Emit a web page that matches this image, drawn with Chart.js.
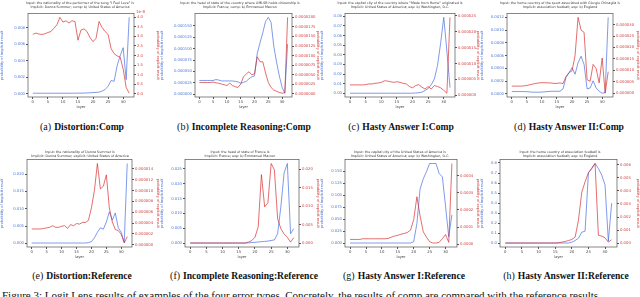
<!DOCTYPE html>
<html>
<head>
<meta charset="utf-8">
<script src="https://cdn.jsdelivr.net/npm/chart.js@4.4.1/dist/chart.umd.min.js"></script>
<style>
  body { margin: 0; background: #fff; width: 640px; height: 297px; overflow: hidden; position: relative; font-family: 'Liberation Serif', serif; }
  canvas { position: absolute; }
  .cap { position: absolute; width: 200px; text-align: center; font-size: 10px; color: #111; white-space: nowrap; }
  .cap b { font-size: 9.6px; margin-left: 3px; }
  .off { position: absolute; font: 4px 'DejaVu Sans'; color: #d44; }
  .fig { position: absolute; left: 2px; top: 289px; font-size: 11px; color: #111; white-space: nowrap; }
</style>
</head>
<body>
<canvas id="pa"></canvas>
<canvas id="pb"></canvas>
<canvas id="pc"></canvas>
<canvas id="pd"></canvas>
<canvas id="pe"></canvas>
<canvas id="pf"></canvas>
<canvas id="pg"></canvas>
<canvas id="ph"></canvas>
<span class="off" style="left:136px;top:9px">1e-8</span>

<div class="cap" style="left:-18px;top:121px">(a)<b>Distortion:Comp</b></div>
<div class="cap" style="left:144px;top:121px">(b)<b>Incomplete Reasoning:Comp</b></div>
<div class="cap" style="left:301px;top:121px">(c)<b>Hasty Answer I:Comp</b></div>
<div class="cap" style="left:469px;top:121px">(d)<b>Hasty Answer II:Comp</b></div>
<div class="cap" style="left:-18px;top:270px">(e)<b>Distortion:Reference</b></div>
<div class="cap" style="left:144px;top:270px">(f)<b>Incomplete Reasoning:Reference</b></div>
<div class="cap" style="left:304px;top:270px">(g)<b>Hasty Answer I:Reference</b></div>
<div class="cap" style="left:466px;top:270px">(h)<b>Hasty Answer II:Reference</b></div>
<div class="fig">Figure 3: Logit Lens results of examples of the four error types. Concretely, the results of comp are compared with the reference results.</div>

<script>
// layers on the x axis
const layers = [0, 1, 2, 3, 4, 5, 6, 7, 8, 9, 10, 11, 12, 13, 14, 15, 16, 17, 18, 19, 20, 21, 22, 23, 24, 25, 26, 27, 28, 29, 30, 31, 32];
const xTicks = [0, 5, 10, 15, 20, 25, 30];

// (a) Distortion:Comp
const aBlue = [0.00005, 0.00005, 0.00005, 0.00005, 0.00005, 0.00005, 0.00005, 0.00005, 0.00005, 0.00005, 0.00005, 0.00005, 0.00005, 0.00005, 0.00005, 0.00006, 0.00006, 0.00007, 0.00008, 0.0001, 0.00013, 0.00015, 0.00018, 0.0003, 0.0005, 0.0009, 0.0016, 0.0015, 0.0034, 0.0046, 0.0056, 0.0017, 0.0093];
const aRed = [3.10e-8, 3.17e-8, 3.12e-8, 3.10e-8, 3.13e-8, 3.20e-8, 3.25e-8, 3.42e-8, 3.60e-8, 3.99e-8, 3.74e-8, 3.81e-8, 3.69e-8, 3.81e-8, 3.77e-8, 2.80e-8, 3.33e-8, 3.39e-8, 3.25e-8, 2.93e-8, 2.72e-8, 2.90e-8, 3.77e-8, 3.46e-8, 3.25e-8, 3.10e-8, 2.36e-8, 2.10e-8, 1.98e-8, 1.92e-8, 1.30e-8, 0.34e-8, 0.04e-8];
const aLeftTicks = [0, 0.002, 0.004, 0.006, 0.008];
const aRightTicks = [0, 0.5e-8, 1.0e-8, 1.5e-8, 2.0e-8, 2.5e-8, 3.0e-8, 3.5e-8, 4.0e-8];

// (b) Incomplete Reasoning:Comp
const bBlue = [0.000030, 0.000030, 0.000030, 0.000030, 0.000030, 0.000030, 0.000032, 0.000031, 0.000029, 0.000029, 0.000029, 0.000029, 0.000029, 0.000028, 0.000027, 0.000024, 0.000026, 0.000028, 0.000034, 0.000038, 0.00004, 0.00009, 0.000113, 0.000135, 0.00016, 0.000169, 0.000158, 0.000105, 0.00007, 0.00004, 0.000015, 0.000002, 0.00011];
const bRed = [0.0000030, 0.0000030, 0.0000030, 0.0000030, 0.0000030, 0.0000031, 0.0000029, 0.0000028, 0.0000026, 0.0000024, 0.0000022, 0.0000028, 0.0000022, 0.0000019, 0.0000017, 0.0000026, 0.0000045, 0.0000052, 0.0000058, 0.0000050, 0.0000053, 0.0000097, 0.0000084, 0.0000084, 0.0000055, 0.0000030, 0.0000017, 0.0000010, 0.0000007, 0.0000004, 0.0000002, 0.0000003, 0.0000200];
const bLeftTicks = [0, 0.000025, 0.00005, 0.000075, 0.0001, 0.000125, 0.00015];
const bRightTicks = [0, 0.0000025, 0.000005, 0.0000075, 0.00001, 0.0000125, 0.000015, 0.0000175, 0.00002];

// (c) Hasty Answer I:Comp
const cBlue = [0.0002, 0.0002, 0.0002, 0.0002, 0.0002, 0.0002, 0.0002, 0.0002, 0.0002, 0.0002, 0.0002, 0.0002, 0.0002, 0.0002, 0.0002, 0.0002, 0.0002, 0.0002, 0.0002, 0.0002, 0.0002, 0.0004, 0.0007, 0.0013, 0.003, 0.005, 0.009, 0.015, 0.029, 0.052, 0.079, 0.044, 0.006];
const cRed = [3.3e-6, 3.3e-6, 3.3e-6, 3.3e-6, 3.3e-6, 3.4e-6, 3.6e-6, 3.6e-6, 3.8e-6, 3.9e-6, 4.1e-6, 4.6e-6, 4.5e-6, 4.3e-6, 4.1e-6, 4.3e-6, 4.1e-6, 3.8e-6, 3.6e-6, 2.8e-6, 2.4e-6, 3.1e-6, 3.4e-6, 2.6e-6, 2.0e-6, 2.8e-6, 2.0e-6, 3.1e-6, 2.8e-6, 2.4e-6, 1.6e-6, 0.7e-6, 2.45e-5];
const cLeftTicks = [0, 0.01, 0.02, 0.03, 0.04, 0.05, 0.06, 0.07, 0.08];
const cRightTicks = [0, 0.000005, 0.00001, 0.000015, 0.00002, 0.000025];

// (d) Hasty Answer II:Comp
const dBlue = [3.6e-5, 3.6e-5, 3.6e-5, 3.6e-5, 3.6e-5, 3.4e-5, 3.0e-5, 2.6e-5, 2.6e-5, 2.6e-5, 2.8e-5, 3.2e-5, 3.6e-5, 4.0e-5, 4.0e-5, 4.0e-5, 4.1e-5, 7.7e-5, 2.56e-4, 3.33e-4, 4.1e-4, 3.08e-4, 4.87e-4, 5.9e-4, 4.6e-4, 7.7e-5, 9.2e-5, 2.05e-4, 9.2e-5, 4.1e-5, 1.0e-5, 2.0e-5, 1.2e-3];
const dRed = [3.1e-6, 3.1e-6, 3.1e-6, 3.1e-6, 3.2e-6, 3.4e-6, 3.7e-6, 4.0e-6, 4.3e-6, 4.5e-6, 4.6e-6, 4.6e-6, 4.5e-6, 4.5e-6, 4.3e-6, 4.3e-6, 4.5e-6, 4.2e-6, 7.3e-6, 9.0e-6, 9.8e-6, 1.64e-5, 3.32e-5, 2.76e-5, 2.66e-5, 5.9e-6, 5.2e-6, 1.26e-5, 1.08e-5, 4.5e-6, 1.54e-5, 0, 9.4e-6];
const dLeftTicks = [0, 0.0002, 0.0004, 0.0006, 0.0008, 0.001, 0.0012];
const dRightTicks = [0, 0.000005, 0.00001, 0.000015, 0.00002, 0.000025, 0.00003];

// (e) Distortion:Reference
const eBlue = [0.0001, 0.0001, 0.0001, 0.0001, 0.0001, 0.0001, 0.0001, 0.0001, 0.0001, 0.0001, 0.0001, 0.0001, 0.0001, 0.0001, 0.0001, 0.0001, 0.0001, 0.0001, 0.0001, 0.0002, 0.0005, 0.0016, 0.0032, 0.0045, 0.0041, 0.0062, 0.0091, 0.0067, 0.0088, 0.0045, 0.0032, 0.0003, 0.0231];
const eRed = [2.9e-6, 2.9e-6, 2.9e-6, 2.9e-6, 3.0e-6, 3.1e-6, 3.2e-6, 3.5e-6, 3.2e-6, 3.2e-6, 3.4e-6, 3.5e-6, 3.0e-6, 3.7e-6, 3.5e-6, 3.9e-6, 3.8e-6, 4.1e-6, 4.1e-6, 4.5e-6, 6.8e-6, 1.0e-5, 1.5e-5, 1.03e-5, 1.08e-5, 1.29e-5, 6.8e-6, 4.2e-6, 2.8e-6, 2.6e-6, 1.9e-6, 0.3e-6, 1.5e-6];
const eLeftTicks = [0, 0.005, 0.01, 0.015, 0.02];
const eRightTicks = [0, 0.000002, 0.000004, 0.000006, 0.000008, 0.00001, 0.000012, 0.000014];

// (f) Incomplete Reasoning:Reference
const fBlue = [0.00005, 0.00005, 0.00005, 0.00005, 0.00005, 0.00005, 0.00005, 0.00005, 0.00005, 0.00005, 0.00005, 0.00005, 0.00005, 0.00005, 0.00005, 0.00005, 0.00005, 0.00005, 0.0001, 0.0002, 0.0003, 0.0004, 0.0005, 0.0006, 0.0007, 0.0009, 0.0011, 0.0032, 0.0123, 0.0236, 0.0268, 0.0032, 0.0049];
const fRed = [0.00005, 0.00005, 0.00005, 0.00005, 0.00005, 0.00005, 0.00005, 0.00005, 0.00005, 0.00005, 0.00005, 0.00005, 0.00005, 0.00005, 0.00005, 0.00005, 0.00005, 0.00005, 0.0003, 0.0007, 0.0016, 0.0044, 0.0185, 0.0098, 0.0109, 0.0215, 0.0198, 0.0066, 0.0039, 0.0025, 0.0016, 0.0003, 0.0015];
const fLeftTicks = [0, 0.005, 0.01, 0.015, 0.02, 0.025];
const fRightTicks = [0, 0.005, 0.01, 0.015, 0.02];

// (g) Hasty Answer I:Reference
const gBlue = [0.0002, 0.0002, 0.0002, 0.0002, 0.0002, 0.0002, 0.0002, 0.0002, 0.0002, 0.0002, 0.0002, 0.0002, 0.0002, 0.0002, 0.0002, 0.0002, 0.0002, 0.0002, 0.0002, 0.0002, 0.003, 0.041, 0.113, 0.134, 0.149, 0.166, 0.166, 0.166, 0.145, 0.138, 0.077, 0.013, 0.059];
const gRed = [2.7e-5, 2.7e-5, 2.7e-5, 2.7e-5, 3.1e-5, 3.1e-5, 3.1e-5, 3.1e-5, 3.1e-5, 3.1e-5, 3.1e-5, 3.1e-5, 3.3e-5, 4.1e-5, 4.7e-5, 5.1e-5, 5.8e-5, 6.2e-5, 6.8e-5, 8.2e-5, 1.44e-4, 2.78e-4, 1.65e-4, 7.2e-5, 4.1e-5, 1.4e-5, 6e-6, 6e-6, 1.0e-5, 3.1e-5, 5.6e-5, 1.0e-5, 4.73e-4];
const gLeftTicks = [0, 0.025, 0.05, 0.075, 0.1, 0.125, 0.15];
const gRightTicks = [0, 0.0001, 0.0002, 0.0003, 0.0004, 0.0005];

// (h) Hasty Answer II:Reference
const hBlue = [0.002, 0.002, 0.002, 0.002, 0.002, 0.002, 0.002, 0.002, 0.002, 0.002, 0.002, 0.002, 0.002, 0.002, 0.002, 0.002, 0.002, 0.002, 0.002, 0.002, 0.01, 0.027, 0.05, 0.11, 0.12, 0.70, 0.75, 0.795, 0.745, 0.68, 0.58, 0.02, 0.40];
const hRed = [0.00001, 0.00001, 0.00001, 0.00001, 0.00001, 0.00001, 0.00001, 0.00001, 0.00001, 0.00001, 0.00001, 0.00001, 0.00001, 0.00001, 0.00001, 0.00001, 0.00003, 0.00008, 0.00013, 0.0002, 0.00028, 0.00046, 0.00175, 0.0039, 0.0047, 0.0054, 0.0057, 0.0061, 0.0006, 0.00054, 0.00041, 0.00008, 0.00026];
const hLeftTicks = [0, 0.1, 0.2, 0.3, 0.4, 0.5, 0.6, 0.7, 0.8];
const hRightTicks = [0, 0.001, 0.002, 0.003, 0.004, 0.005, 0.006];

const BLUE = 'rgba(65,105,225,0.75)';
const RED = 'rgba(214,39,40,0.75)';
const BLUE_TXT = '#4a78d6';
const RED_TXT = '#d23c3c';

const panels = [
  { id: 'pa', left: 0, top: 0, h: 112, lw: 28, rw: 26, padTop: 0.8, padBot: 4.8,
    title: ['Input: the nationality of the performer of the song "I Feel Love" is', 'Implicit: Donna Summer; comp: b) United States of America'],
    blue: aBlue, red: aRed, lt: aLeftTicks, rt: aRightTicks, lf: v => v.toFixed(3), rf: v => (v * 1e8).toFixed(1) },
  { id: 'pb', left: 160, top: 0, h: 112, lw: 35, rw: 28, padTop: 0.8, padBot: 4.8,
    title: ['Input: the head of state of the country where OMLSB holds citizenship is', 'Implicit: France; comp: b) Emmanuel Macron'],
    blue: bBlue, red: bRed, lt: bLeftTicks, rt: bRightTicks, lf: v => v.toFixed(6), rf: v => v.toFixed(7) },
  { id: 'pc', left: 320, top: 0, h: 112, lw: 25, rw: 25, padTop: 0.8, padBot: 4.8,
    title: ['Input: the capital city of the country where "Made from Home" originated is', 'Implicit: United States of America; exp: b) Washington, D.C.'],
    blue: cBlue, red: cRed, lt: cLeftTicks, rt: cRightTicks, lf: v => v.toFixed(2), rf: v => v.toFixed(6) },
  { id: 'pd', left: 480, top: 0, h: 112, lw: 27, rw: 27, padTop: 0.8, padBot: 4.8,
    title: ['Input: the home country of the sport associated with Giorgio Chinaglia is', 'Implicit: association football; exp: b) England'],
    blue: dBlue, red: dRed, lt: dLeftTicks, rt: dRightTicks, lf: v => v.toFixed(4), rf: v => v.toFixed(6) },
  { id: 'pe', left: 0, top: 146, h: 116, lw: 27, rw: 28, padTop: 4.3, padBot: 1.3,
    title: ['Input: the nationality of Donna Summer is', 'Implicit: Donna Summer; explicit: United States of America'],
    blue: eBlue, red: eRed, lt: eLeftTicks, rt: eRightTicks, lf: v => v.toFixed(3), rf: v => v.toFixed(6) },
  { id: 'pf', left: 160, top: 146, h: 116, lw: 25, rw: 21, padTop: 4.3, padBot: 1.3,
    title: ['Input: the head of state of France is', 'Implicit: France; exp: b) Emmanuel Macron'],
    blue: fBlue, red: fRed, lt: fLeftTicks, rt: fRightTicks, lf: v => v.toFixed(3), rf: v => v.toFixed(3) },
  { id: 'pg', left: 320, top: 146, h: 116, lw: 25, rw: 23, padTop: 4.3, padBot: 1.3,
    title: ['Input: the capital city of the United States of America is', 'Implicit: United States of America; exp: b) Washington, D.C.'],
    blue: gBlue, red: gRed, lt: gLeftTicks, rt: gRightTicks, lf: v => v.toFixed(3), rf: v => v.toFixed(4) },
  { id: 'ph', left: 480, top: 146, h: 116, lw: 20, rw: 23, padTop: 4.3, padBot: 1.3,
    title: ['Input: the home country of association football is', 'Implicit: association football; exp: b) England'],
    blue: hBlue, red: hRed, lt: hLeftTicks, rt: hRightTicks, lf: v => v.toFixed(1), rf: v => v.toFixed(3) }
];

// frame around the plot area, like matplotlib spines
const boxPlugin = {
  id: 'box',
  afterDraw(chart) {
    const { ctx, chartArea: a } = chart;
    ctx.save();
    ctx.strokeStyle = '#555';
    ctx.lineWidth = 0.7;
    ctx.strokeRect(a.left, a.top, a.right - a.left, a.bottom - a.top);
    ctx.restore();
  }
};

function limits(arr) {
  const lo = Math.min(...arr), hi = Math.max(...arr);
  const pad = (hi - lo) * 0.05;
  return { min: lo - pad, max: hi + pad };
}

const tickFont = { family: 'DejaVu Sans', size: 3.8 };
const labFont = { family: 'DejaVu Sans', size: 3.6, weight: 'normal' };
const titleFont = { family: 'DejaVu Sans', size: 3.3, weight: 'normal' };

function makeChart(p) {
  const canvas = document.getElementById(p.id);
  canvas.width = 160;
  canvas.height = p.h;
  canvas.style.left = p.left + 'px';
  canvas.style.top = p.top + 'px';
  const bl = limits(p.blue), rl = limits(p.red);
  new Chart(canvas, {
    type: 'line',
    data: {
      datasets: [
        { data: layers.map((x, i) => ({ x: x, y: p.red[i] })), yAxisID: 'yR', borderColor: RED, borderWidth: 0.9, pointRadius: 0, tension: 0 },
        { data: layers.map((x, i) => ({ x: x, y: p.blue[i] })), yAxisID: 'yL', borderColor: BLUE, borderWidth: 0.9, pointRadius: 0, tension: 0 }
      ]
    },
    options: {
      responsive: false,
      animation: false,
      devicePixelRatio: 1,
      layout: { padding: 0 },
      plugins: {
        legend: { display: false },
        tooltip: { enabled: false },
        title: { display: true, text: p.title, color: '#333', font: titleFont, padding: { top: p.padTop, bottom: p.padBot } }
      },
      scales: {
        x: {
          type: 'linear', min: -1.6, max: 33.6,
          afterBuildTicks: s => { s.ticks = xTicks.map(v => ({ value: v })); },
          afterFit: s => { s.height = 15; },
          ticks: { color: '#444', font: tickFont, padding: 1, autoSkip: false, maxRotation: 0 },
          grid: { drawOnChartArea: false, drawTicks: true, tickLength: 2, color: '#555' },
          border: { display: false },
          title: { display: true, text: 'layer', color: '#444', font: labFont, padding: { top: 0, bottom: 2.5 } }
        },
        yL: {
          type: 'linear', position: 'left', min: bl.min, max: bl.max,
          afterBuildTicks: s => { s.ticks = p.lt.filter(v => v >= s.min && v <= s.max).map(v => ({ value: v })); },
          afterFit: s => { s.width = p.lw; },
          ticks: { color: BLUE_TXT, font: tickFont, padding: 1, autoSkip: false, callback: v => p.lf(v) },
          grid: { drawOnChartArea: false, drawTicks: true, tickLength: 2, color: '#555' },
          border: { display: false },
          title: { display: true, text: 'probability of implicit result', color: BLUE_TXT, font: labFont, padding: 0 }
        },
        yR: {
          type: 'linear', position: 'right', min: rl.min, max: rl.max,
          afterBuildTicks: s => { s.ticks = p.rt.filter(v => v >= s.min && v <= s.max).map(v => ({ value: v })); },
          afterFit: s => { s.width = p.rw; },
          ticks: { color: RED_TXT, font: tickFont, padding: 1, autoSkip: false, callback: v => p.rf(v) },
          grid: { drawOnChartArea: false, drawTicks: true, tickLength: 2, color: '#555' },
          border: { display: false },
          title: { display: true, text: 'probability of explicit result', color: RED_TXT, font: labFont, padding: 0 }
        }
      }
    },
    plugins: [boxPlugin]
  });
}

panels.forEach(makeChart);
</script>
</body>
</html>
